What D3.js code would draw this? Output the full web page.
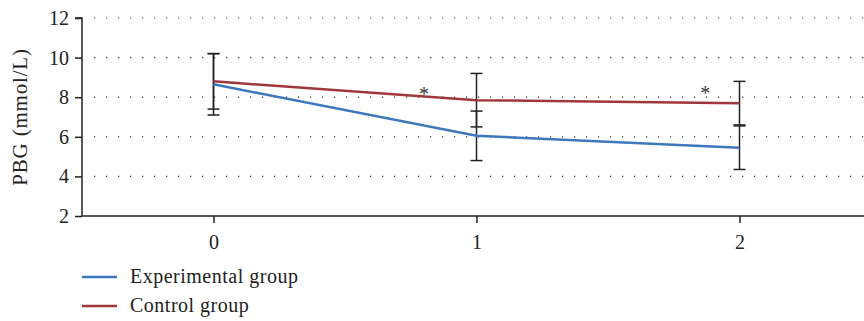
<!DOCTYPE html>
<html><head><meta charset="utf-8">
<script src="https://cdn.jsdelivr.net/npm/d3@7"></script>
<style>body{margin:0;background:#fff}svg{display:block}</style>
</head><body>
<script>
const xValues = [0, 1, 2];
const experimental = [8.65, 6.05, 5.45];
const experimentalErr = [1.55, 1.25, 1.1];
const control = [8.8, 7.85, 7.7];
const controlErr = [1.4, 1.35, 1.1];
const yTicks = [2, 4, 6, 8, 10, 12];
const xTicks = [0, 1, 2];
const stars = [{x: 0.8, y: 8.25}, {x: 1.87, y: 8.3}];
const seriesNames = ["Experimental group", "Control group"];
const colors = ["#3d77bd", "#a1363a"];

const W = 864, H = 321;
const svg = d3.select("body").append("svg").attr("width", W).attr("height", H);
const font = "'Liberation Serif', 'DejaVu Serif', serif";

const x = d3.scaleLinear().domain([-0.5, 2.5]).range([82, 871]);
const y = d3.scaleLinear().domain([2, 12]).range([216, 18]);

// grid
svg.append("g").selectAll("line").data(yTicks.filter(d => d > 2)).join("line")
  .attr("x1", 94).attr("x2", W).attr("y1", d => y(d)).attr("y2", d => y(d))
  .attr("stroke", "#333").attr("stroke-width", 1.2).attr("stroke-dasharray", "1.2,10.8");

// axes
const yAxis = svg.append("g").attr("transform", "translate(82,0)")
  .call(d3.axisLeft(y).tickValues(yTicks).tickFormat(d3.format("d")).tickSize(7).tickPadding(6));
const xAxis = svg.append("g").attr("transform", `translate(0,${y(2)})`)
  .call(d3.axisBottom(x).tickValues(xTicks).tickFormat(d3.format("d")).tickSize(7).tickPadding(12));
[yAxis, xAxis].forEach(g => {
  g.attr("font-size", null).attr("font-family", null);
  g.select(".domain").attr("stroke", "#222").attr("stroke-width", 1.5);
  g.selectAll(".tick line").attr("stroke", "#222").attr("stroke-width", 1.5);
  g.selectAll(".tick text").style("font-family", font).style("font-size", "20px").attr("fill", "#222");
});
yAxis.select(".domain").attr("d", `M-7,${y(12)}H0V${y(2)}`);
xAxis.select(".domain").attr("d", `M82,0H${W}`);

svg.append("text").attr("transform", `translate(27,${y(7)}) rotate(-90)`)
  .attr("text-anchor", "middle").style("font-family", font).style("font-size", "21px")
  .style("letter-spacing", "0.8px").attr("fill", "#222")
  .text("PBG (mmol/L)");

// error bars
const errs = [];
xValues.forEach((xv, i) => {
  errs.push({x: xv, v: control[i], e: controlErr[i]});
  errs.push({x: xv, v: experimental[i], e: experimentalErr[i]});
});
const eg = svg.append("g").attr("stroke", "#222").attr("stroke-width", 1.5);
errs.forEach(d => {
  eg.append("line").attr("x1", x(d.x)).attr("x2", x(d.x)).attr("y1", y(d.v + d.e)).attr("y2", y(d.v - d.e));
  [d.v + d.e, d.v - d.e].forEach(v => {
    eg.append("line").attr("x1", x(d.x) - 6).attr("x2", x(d.x) + 6).attr("y1", y(v)).attr("y2", y(v));
  });
});

// lines
const line = d3.line().x((d, i) => x(xValues[i])).y(d => y(d));
[experimental, control].forEach((s, k) => {
  svg.append("path").datum(s).attr("d", line).attr("fill", "none")
    .attr("stroke", colors[k]).attr("stroke-width", 2.5);
});

// stars
svg.append("g").selectAll("text").data(stars).join("text")
  .attr("x", d => x(d.x)).attr("y", d => y(d.y) + 9).attr("text-anchor", "middle")
  .style("font-family", font).style("font-size", "20px").attr("fill", "#333").text("*");

// legend
const lg = svg.append("g");
seriesNames.forEach((n, k) => {
  const yy = 277 + k * 29;
  lg.append("line").attr("x1", 82).attr("x2", 117).attr("y1", yy).attr("y2", yy)
    .attr("stroke", colors[k]).attr("stroke-width", 2.5);
  lg.append("text").attr("x", 130).attr("y", yy + 6).style("font-family", font)
    .style("font-size", "20px").style("letter-spacing", "0.5px").attr("fill", "#222").text(n);
});
</script>
</body></html>
